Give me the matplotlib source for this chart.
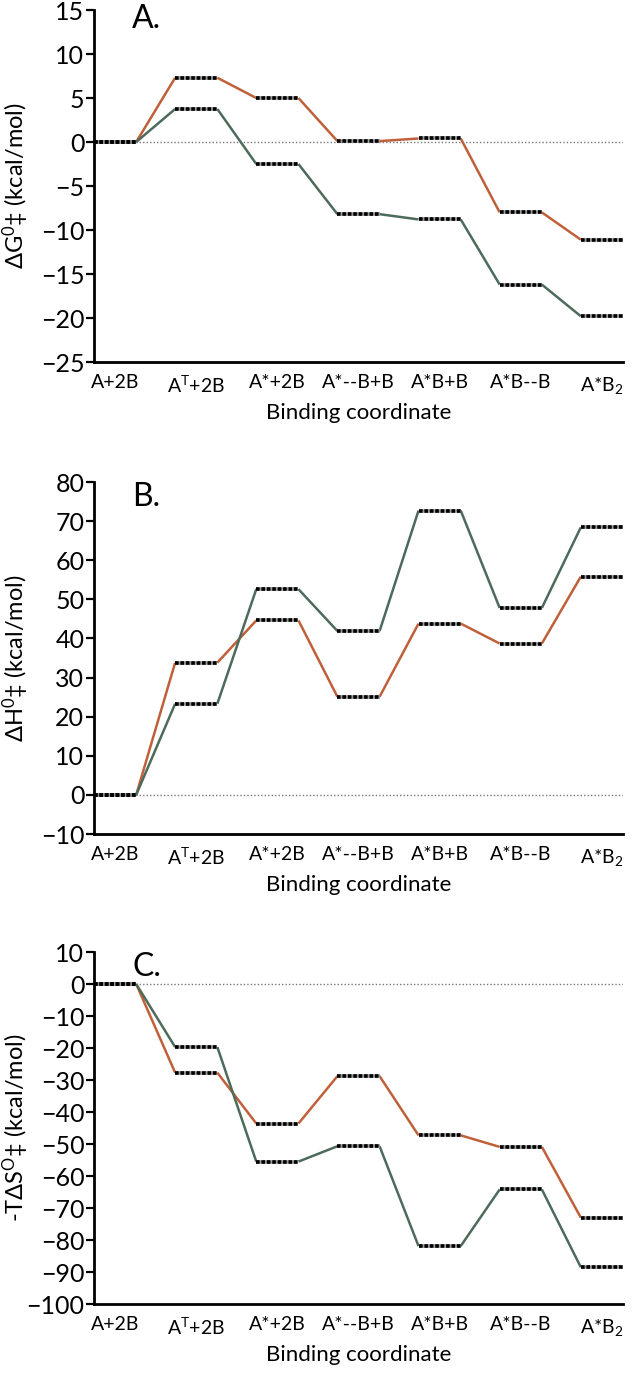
import matplotlib
matplotlib.use("Agg")
import matplotlib.pyplot as plt
import matplotlib.transforms as mtransforms
import numpy as np

# ---- data ----
categories = ["A+2B", r"A$^{\mathrm{T}}$+2B", "A*+2B", "A*--B+B", "A*B+B", "A*B--B", r"A*B$_{2}$"]

dG_orange = [0, 7.3, 5.0, 0.1, 0.4, -8.0, -11.1]
dG_green = [0, 3.75, -2.5, -8.2, -8.8, -16.2, -19.8]

dH_orange = [0, 33.8, 44.6, 25.1, 43.8, 38.7, 55.8]
dH_green = [0, 23.3, 52.6, 41.9, 72.7, 47.8, 68.4]

TdS_orange = [0, -27.7, -43.6, -28.8, -47.3, -50.9, -73.0]
TdS_green = [0, -19.7, -55.5, -50.7, -81.9, -64.2, -88.5]

ylabels = [r"$\Delta$G$^{0}$‡ (kcal/mol)", r"$\Delta$H$^{0}$‡ (kcal/mol)", r"-T$\Delta$S$^{\mathrm{O}}$‡ (kcal/mol)"]
letters = ["A.", "B.", "C."]
ylims = [(-25, 15), (-10, 80), (-100, 10)]
ysteps = [5, 10, 10]

plt.rcParams['font.family'] = ['Lato', 'DejaVu Sans']
plt.rcParams['mathtext.fontset'] = 'custom'
plt.rcParams['mathtext.rm'] = 'Lato'
plt.rcParams['mathtext.it'] = 'Lato'
plt.rcParams['mathtext.bf'] = 'Lato:bold'

ORANGE = "#c0603a"
GREEN = "#4d6b5a"

W, H = 633, 1377
fig = plt.figure(figsize=(W / 100, H / 100), dpi=100)

left_px, right_px = 94, 623
tops = [10, 482, 952]
ph = 352
half = 0.26

datasets = [(dG_orange, dG_green), (dH_orange, dH_green), (TdS_orange, TdS_green)]

for i in range(3):
    top = tops[i]
    ax = fig.add_axes([left_px / W, 1 - (top + ph) / H, (right_px - left_px) / W, ph / H])
    x = np.arange(len(categories))
    ax.axhline(0, color="#777777", lw=1.0, ls=(0, (1, 1.5)), zorder=1)
    for series, col in zip(datasets[i], [ORANGE, GREEN]):
        # connectors
        for k in range(len(x) - 1):
            ax.plot([x[k] + half, x[k + 1] - half], [series[k], series[k + 1]],
                    color=col, lw=1.8, solid_capstyle='butt', zorder=2)
        # levels
        for k in range(len(x)):
            ax.plot([x[k] - half, x[k] + half], [series[k], series[k]],
                    color="#999999", lw=2.6, solid_capstyle='butt', zorder=3)
            ax.plot([x[k] - half, x[k] + half], [series[k], series[k]],
                    color="black", lw=2.6, ls=(0, (1.0, 0.5)), dash_capstyle='butt', zorder=4)
    ax.set_xlim(-half, len(x) - 1 + half)
    lo, hi = ylims[i]
    ax.set_ylim(lo, hi)
    ax.set_yticks(np.arange(lo, hi + 0.1, ysteps[i]))
    ax.set_xticks(x)
    ax.set_xticklabels(categories, fontsize=14)
    offset = mtransforms.ScaledTranslation(8 / 100, 0, fig.dpi_scale_trans)
    for lab in ax.get_xticklabels():
        lab.set_transform(lab.get_transform() + offset)
    ax.tick_params(axis='x', length=0, pad=9)
    ax.tick_params(axis='y', length=6, width=1.6, labelsize=18, pad=1, direction='out')
    for s in ['top', 'right']:
        ax.spines[s].set_visible(False)
    for s in ['left', 'bottom']:
        ax.spines[s].set_linewidth(2.0)
    ax.set_ylabel(ylabels[i], fontsize=17)
    ax.yaxis.set_label_coords((31 - left_px) / (right_px - left_px), 0.5)
    ax.set_xlabel("Binding coordinate", fontsize=16, labelpad=5)
    ax.patch.set_alpha(0)
    ltop = [4, 482, 952][i]
    fig.text(132 / W, 1 - ltop / H, letters[i], fontsize=23, va='top', ha='left')

fig.savefig("out.png", dpi=100)
